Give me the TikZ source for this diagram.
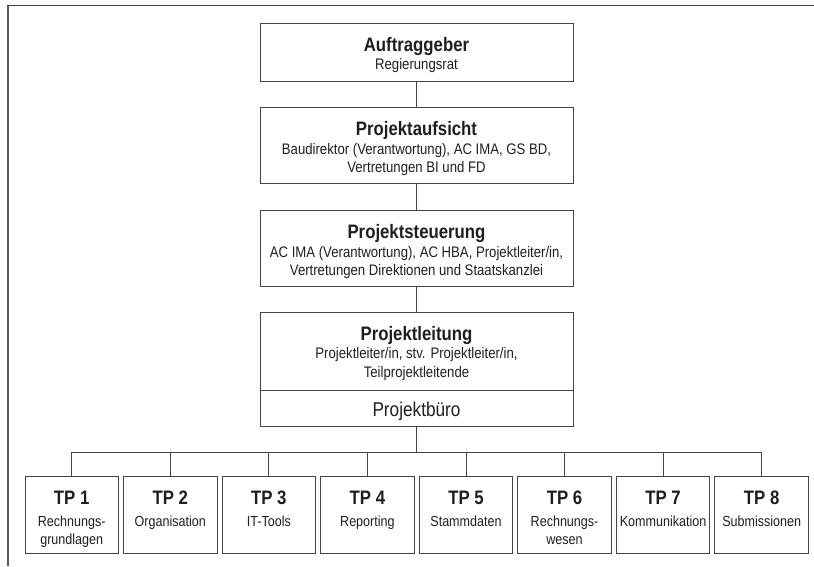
\documentclass[tikz,border=0pt]{standalone}
\usepackage{fontspec}
\setmainfont[FakeStretch=0.86]{Liberation Sans}
\definecolor{ln}{HTML}{454545}
\definecolor{tx}{HTML}{1E1E1E}
\definecolor{fr}{HTML}{5A5A5A}
\newcommand{\orgtwo}[2]{\parbox[t]{310pt}{\centering #1\\#2}}
\newcommand{\tptwo}[2]{\parbox[t]{92pt}{\centering #1\\#2}}
\tikzset{
  orgbox/.style={draw=ln, line width=0.9pt, minimum width=313pt, inner sep=0pt},
  tpbox/.style={draw=ln, line width=0.9pt, minimum width=93.5pt, minimum height=76.6pt, inner sep=0pt},
  ttl/.style={anchor=base, inner sep=0pt, text=tx, font=\bfseries\fontsize{19.5}{22}\selectfont},
  subt/.style={anchor=base, inner sep=0pt, text=tx, font=\fontsize{15.3}{18.8}\selectfont},
  tpsub/.style={anchor=base, inner sep=0pt, text=tx, font=\fontsize{14.6}{18.3}\selectfont},
  buro/.style={anchor=base, inner sep=0pt, text=tx, font=\fontsize{20}{22}\selectfont},
  conn/.style={draw=ln, line width=0.9pt},
}
\begin{document}
\begin{tikzpicture}[x=1pt,y=-1pt]
\useasboundingbox (0,0) rectangle (814,566);
% frame
\draw[fr, line width=1.8pt] (8,566) -- (8,5.5);
\draw[ln, line width=1.1pt] (7.1,5.5) -- (814,5.5);

% Auftraggeber
\node[orgbox, minimum height=58pt] (a) at (416.5,52) {};
\node[ttl] (at) at (416.5,51) {Auftraggeber};
\node[subt] (as) at (416.5,69.5) {Regierungsrat};

% Projektaufsicht
\node[orgbox, minimum height=76pt] (b) at (416.5,145) {};
\node[ttl] (bt) at (416.5,135.5) {Projektaufsicht};
\node[subt] (bs) at (416.5,154) {\orgtwo{Baudirektor (Verantwortung), AC IMA, GS BD,}{Vertretungen BI und FD}};

% Projektsteuerung
\node[orgbox, minimum height=76pt] (c) at (416.5,248) {};
\node[ttl] (ct) at (416.5,238.5) {Projektsteuerung};
\node[subt] (cs) at (416.5,257) {\orgtwo{AC IMA (Verantwortung), AC HBA, Projektleiter/in,}{Vertretungen Direktionen und Staatskanzlei}};

% Projektleitung
\node[orgbox, minimum height=78.7pt] (d) at (416.5,351.35) {};
\node[ttl] (dt) at (416.5,340) {Projektleitung};
\node[subt] (ds) at (416.5,358.5) {\orgtwo{Projektleiter/in, stv. Projektleiter/in,}{Teilprojektleitende}};
\node[orgbox, minimum height=36pt] (e) at (416.5,408.7) {};
\node[buro] (et) at (416.5,416) {Projektbüro};

% TP boxes
\node[tpbox] (tp1) at (71.7,515) {};
\node[tpbox] (tp2) at (170.27,515) {};
\node[tpbox] (tp3) at (268.84,515) {};
\node[tpbox] (tp4) at (367.41,515) {};
\node[tpbox] (tp5) at (465.98,515) {};
\node[tpbox] (tp6) at (564.55,515) {};
\node[tpbox] (tp7) at (663.12,515) {};
\node[tpbox] (tp8) at (761.69,515) {};

\node[ttl] (tp1t) at (71.7,504.5) {TP 1};
\node[ttl] (tp2t) at (170.27,504.5) {TP 2};
\node[ttl] (tp3t) at (268.84,504.5) {TP 3};
\node[ttl] (tp4t) at (367.41,504.5) {TP 4};
\node[ttl] (tp5t) at (465.98,504.5) {TP 5};
\node[ttl] (tp6t) at (564.55,504.5) {TP 6};
\node[ttl] (tp7t) at (663.12,504.5) {TP 7};
\node[ttl] (tp8t) at (761.69,504.5) {TP 8};

\node[tpsub] (tp1s) at (71.7,526.5) {\tptwo{Rechnungs-}{grundlagen}};
\node[tpsub] (tp2s) at (170.27,526.5) {Organisation};
\node[tpsub] (tp3s) at (268.84,526.5) {IT-Tools};
\node[tpsub] (tp4s) at (367.41,526.5) {Reporting};
\node[tpsub] (tp5s) at (465.98,526.5) {Stammdaten};
\node[tpsub] (tp6s) at (564.55,526.5) {\tptwo{Rechnungs-}{wesen}};
\node[tpsub] (tp7s) at (663.12,526.5) {Kommunikation};
\node[tpsub] (tp8s) at (761.69,526.5) {Submissionen};

% connectors
\coordinate (bus) at (416.5,452.3);
\draw[conn] (a.south) -- (b.north);
\draw[conn] (b.south) -- (c.north);
\draw[conn] (c.south) -- (d.north);
\draw[conn] (e.south) -- (bus);
\draw[conn] (tp1.north |- bus) -- (tp8.north |- bus);
\foreach \k in {1,...,8} {
  \draw[conn] (tp\k.north |- bus) -- (tp\k.north);
}
\end{tikzpicture}
\end{document}
